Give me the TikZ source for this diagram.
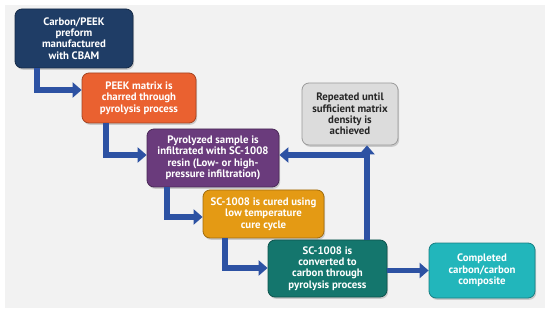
\documentclass[tikz,border=0pt]{standalone}
\usepackage{fontspec}
\setmainfont{PT Sans}
\usetikzlibrary{arrows.meta,shadows}
\definecolor{navy}{HTML}{1F3D66}
\definecolor{orng}{HTML}{EA6130}
\definecolor{purp}{HTML}{6A3B7C}
\definecolor{gold}{HTML}{E49A14}
\definecolor{teal}{HTML}{14766D}
\definecolor{cyanb}{HTML}{22B6BB}
\definecolor{greyb}{HTML}{DCDCDC}
\definecolor{arrblue}{HTML}{2D52A3}
\definecolor{panel}{HTML}{F2F2F2}
\tikzset{
  box/.style={draw=#1!70!black, line width=0.8pt, fill=#1, rounded corners=7pt, text=white,
    font=\bfseries\fontsize{10.8}{11.4}\selectfont, align=center, inner sep=2pt,
    drop shadow={shadow xshift=1.2pt, shadow yshift=-1.8pt, opacity=0.35, rounded corners=7pt}},
  arr/.style={draw=arrblue, line width=5.5pt,
    -{Triangle[width=15pt,length=9pt]}},
}
\begin{document}
\begin{tikzpicture}[x=1pt,y=-1pt]
\useasboundingbox (0,0) rectangle (550,313);
\fill[white] (0,0) rectangle (550,313);
\fill[panel] (5,5) rectangle (545,308);
\node[box=navy, minimum width=118pt, minimum height=59pt] (b1) at (74,38.5)
  {Carbon/PEEK\\preform\\manufactured\\with CBAM};
\node[box=orng, minimum width=114pt, minimum height=50pt] (b2) at (139,98)
  {PEEK matrix is\\charred through\\pyrolysis process};
\node[box=purp, minimum width=132pt, minimum height=58pt] (b3) at (213,158)
  {Pyrolyzed sample is\\infiltrated with SC-1008\\resin (Low- or high-\\pressure infiltration)};
\node[box=gold, minimum width=121pt, minimum height=48pt] (b4) at (263.5,214)
  {SC-1008 is cured using\\low temperature\\cure cycle};
\node[box=teal, minimum width=119pt, minimum height=57pt] (b5) at (327.5,268.5)
  {SC-1008 is\\converted to\\carbon through\\pyrolysis process};
\node[box=cyanb, minimum width=106pt, minimum height=55pt] (b6) at (482,270.5)
  {Completed\\carbon/carbon\\composite};
\node[box=greyb, text=black!85, minimum width=96pt, minimum height=62pt] (b7) at (350,114)
  {Repeated until\\sufficient matrix\\density is\\achieved};
\coordinate (a1) at (37,90);
\coordinate (a2) at (106,155);
\coordinate (a3) at (167,217);
\coordinate (a4) at (225,268);
\coordinate (a6) at (367,155);
\draw[arr] (b1.south -| a1) |- (b2.west |- a1);
\draw[arr] (b2.south -| a2) |- (b3.west |- a2);
\draw[arr] (b3.south -| a3) |- (b4.west |- a3);
\draw[arr] (b4.south -| a4) |- (b5.west |- a4);
\draw[arr] (b5.east |- b6.west) -- (b6.west);
\draw[arr] (b5.north -| a6) -- (b7.south -| a6);
\draw[arr] (a6) -- (b3.east |- a6);
\end{tikzpicture}
\end{document}
